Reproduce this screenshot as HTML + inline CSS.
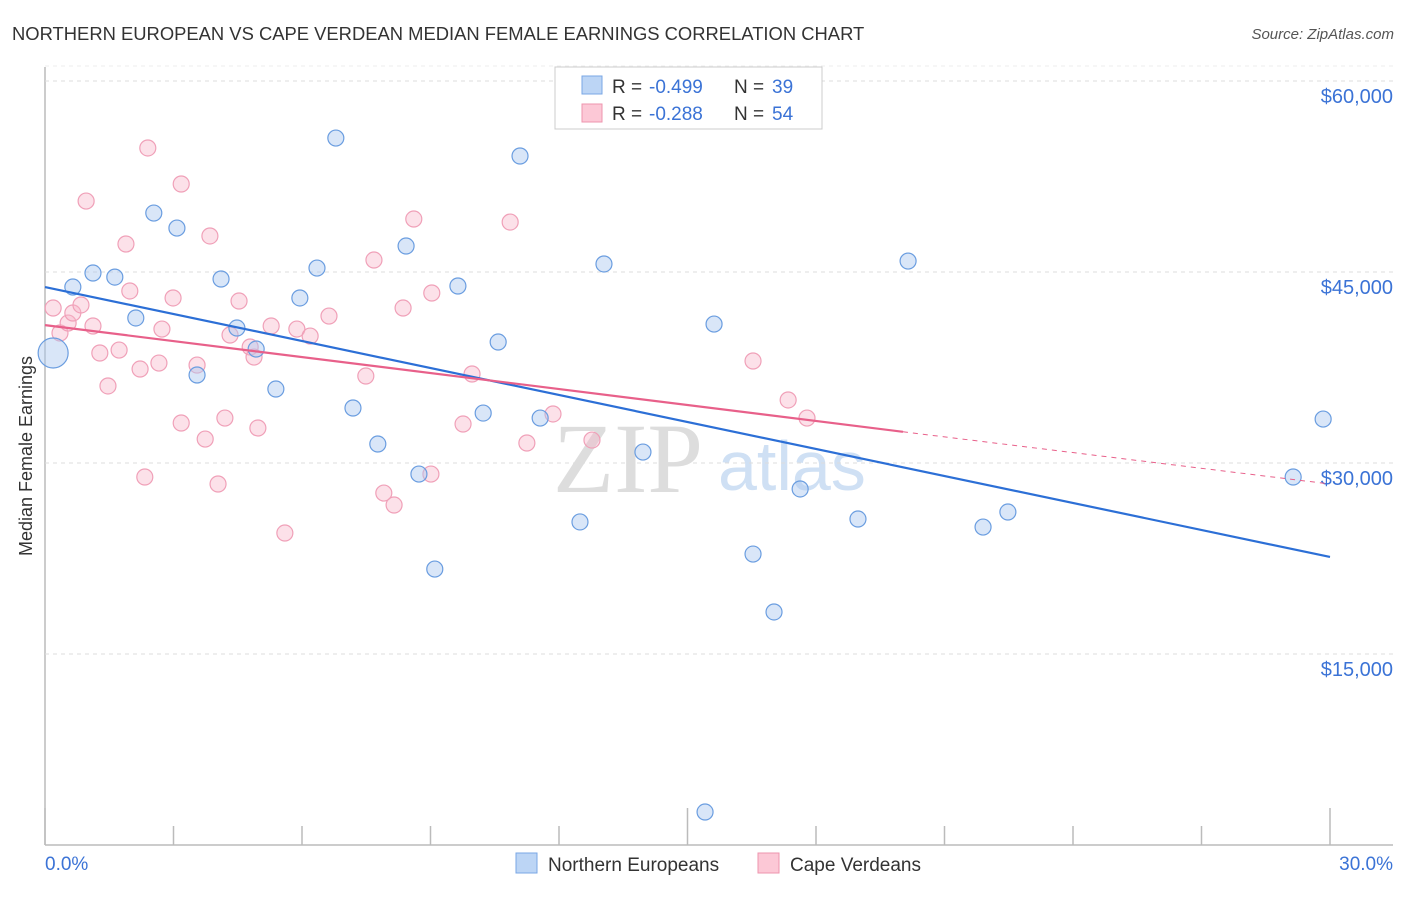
<!DOCTYPE html>
<html><head><meta charset="utf-8"><style>
body{margin:0;background:#fff;font-family:"Liberation Sans",sans-serif}
</style></head><body>
<svg id="c" width="1406" height="892" xmlns="http://www.w3.org/2000/svg" style="font-family:'Liberation Sans',sans-serif">
<text x="12" y="40" font-size="18.4" fill="#333">NORTHERN EUROPEAN VS CAPE VERDEAN MEDIAN FEMALE EARNINGS CORRELATION CHART</text>
<text x="1394" y="39" font-size="15" fill="#555" text-anchor="end" font-style="italic">Source: ZipAtlas.com</text>
<text x="32" y="456" font-size="18" fill="#333" text-anchor="middle" transform="rotate(-90 32 456)">Median Female Earnings</text>
<text x="553" y="492" font-size="100" fill="#ddd" font-family="Liberation Serif,serif">ZIP</text>
<text x="718" y="490" font-size="70" fill="#cfe0f4">atlas</text>
<g id="grid"></g><g id="pts"></g><g id="trend"></g>
<g>
<rect x="555" y="67" width="267" height="62" fill="#fff" stroke="#ccc"/>
<rect x="582" y="76" width="20" height="18" fill="#bcd5f5" stroke="#7aa7e5"/>
<rect x="582" y="104" width="20" height="18" fill="#fcc8d6" stroke="#ee94ae"/>
<text x="612" y="93" font-size="19" fill="#333">R =</text>
<text x="649" y="93" font-size="19" fill="#3b73d6">-0.499</text>
<text x="734" y="93" font-size="19" fill="#333">N =</text>
<text x="772" y="93" font-size="19" fill="#3b73d6">39</text>
<text x="612" y="120" font-size="19" fill="#333">R =</text>
<text x="649" y="120" font-size="19" fill="#3b73d6">-0.288</text>
<text x="734" y="120" font-size="19" fill="#333">N =</text>
<text x="772" y="120" font-size="19" fill="#3b73d6">54</text>
</g>
<g>
<rect x="516" y="853" width="21" height="20" fill="#bcd5f5" stroke="#7aa7e5"/>
<text x="548" y="871" font-size="19" fill="#333">Northern Europeans</text>
<rect x="758" y="853" width="21" height="20" fill="#fcc8d6" stroke="#ee94ae"/>
<text x="790" y="871" font-size="19" fill="#333">Cape Verdeans</text>
</g>
</svg>
<script>
const yTicks=[15000,30000,45000,60000];
const yTickLabels=["$15,000","$30,000","$45,000","$60,000"];
const xTickVals=[0,3,6,9,12,15,18,21,24,27,30];
const blueX=[0.19,0.65,1.12,1.63,2.12,2.54,3.08,3.55,4.11,4.48,4.93,5.39,5.95,6.35,6.79,7.19,7.77,8.43,8.73,9.10,9.64,10.23,10.58,11.09,11.56,12.49,13.05,13.96,15.41,15.62,16.53,17.02,17.63,18.98,20.15,21.90,22.48,29.14,29.84];
const blueY=[38640,43820,44920,44600,41390,49630,48450,36910,44450,40600,38950,35810,42960,45310,55520,34320,31490,47040,29130,21670,43900,33920,39500,54110,33530,25370,45630,30860,2590,40910,22850,18300,27960,25600,45860,24970,26150,28900,33450];
const pinkX=[0.19,0.35,0.54,0.65,0.84,0.96,1.12,1.28,1.47,1.73,1.89,1.98,2.22,2.33,2.40,2.66,2.73,2.99,3.18,3.18,3.55,3.74,3.85,4.04,4.20,4.32,4.53,4.79,4.88,4.97,5.28,5.60,5.88,6.19,6.63,7.49,7.68,7.91,8.15,8.36,8.61,9.01,9.03,9.76,9.97,10.86,11.25,11.86,12.77,16.53,17.35,17.79];
const pinkY=[42170,40210,40990,41780,42410,50570,40760,38640,36050,38870,47200,43510,37380,28900,54740,37850,40520,42960,51910,33140,37690,31880,47830,28350,33530,40050,42720,39110,38320,32750,40760,24500,40520,39970,41540,36830,45940,27640,26700,42170,49160,29130,43350,33060,36990,48920,31570,33850,31800,38010,34950,33530];
const blueTrend=[[0,43820],[30,22620]];
const pinkTrend=[[0,40830],[20.03,32450],[30,28350]];
const NS="http://www.w3.org/2000/svg";
const X=v=>45+v/30*1285, Y=v=>845-v/15000*191;
function mk(t,a,p){const e=document.createElementNS(NS,t);for(const k in a)e.setAttribute(k,a[k]);p.appendChild(e);return e;}
const g=document.getElementById('grid');
let ax=mk('line',{x1:45,y1:67,x2:45,y2:845,stroke:'#bbb','stroke-width':1.5},g);


let bx=mk('line',{x1:45,y1:845,x2:1393,y2:845,stroke:'#bbb','stroke-width':1.5},g);


yTicks.forEach((v,i)=>{
 const l=mk('line',{x1:45,x2:1393,y1:Y(v),y2:Y(v),stroke:'#ddd','stroke-dasharray':'4,4'},g);
 
 
 const t=mk('text',{x:1393,y:Y(v)+22,'font-size':20,fill:'#3b73d6','text-anchor':'end'},g);
 t.textContent=yTickLabels[i];
 
 
});
mk('line',{x1:45,x2:1393,y1:Y(60000)-15,y2:Y(60000)-15,stroke:'#eee','stroke-dasharray':'4,4'},g);
xTickVals.forEach((v,i)=>{
 const long=(i==0||i==5||i==10);
 const l=mk('line',{x1:X(v),x2:X(v),y1:long?808:826,y2:845,stroke:'#bbb','stroke-width':1.5},g);
 
 
});
let t0=mk('text',{x:45,y:870,'font-size':19,fill:'#3b73d6'},g);t0.textContent='0.0%';


let t1=mk('text',{x:1393,y:870,'font-size':19,fill:'#3b73d6','text-anchor':'end'},g);t1.textContent='30.0%';


const p=document.getElementById('pts');
pinkX.forEach((v,i)=>{
 const c=mk('circle',{cx:X(v),cy:Y(pinkY[i]),r:8,fill:'rgba(248,180,200,0.4)',stroke:'#f0a0b8','stroke-width':1.2},p);
 
 
});
blueX.forEach((v,i)=>{
 const c=mk('circle',{cx:X(v),cy:Y(blueY[i]),r:i==0?15:8,fill:'rgba(170,200,240,0.45)',stroke:'#6a9de0','stroke-width':1.2},p);
 
 
});
const tr=document.getElementById('trend');
let bl=mk('line',{x1:X(blueTrend[0][0]),y1:Y(blueTrend[0][1]),x2:X(blueTrend[1][0]),y2:Y(blueTrend[1][1]),stroke:'#2c6fd6','stroke-width':2.2},tr);


let pl=mk('line',{x1:X(pinkTrend[0][0]),y1:Y(pinkTrend[0][1]),x2:X(pinkTrend[1][0]),y2:Y(pinkTrend[1][1]),stroke:'#e8608a','stroke-width':2.2},tr);


let pd=mk('line',{x1:X(pinkTrend[1][0]),y1:Y(pinkTrend[1][1]),x2:X(pinkTrend[2][0]),y2:Y(pinkTrend[2][1]),stroke:'#e8608a','stroke-width':1,'stroke-dasharray':'5,5'},tr);


</script>
</body></html>
